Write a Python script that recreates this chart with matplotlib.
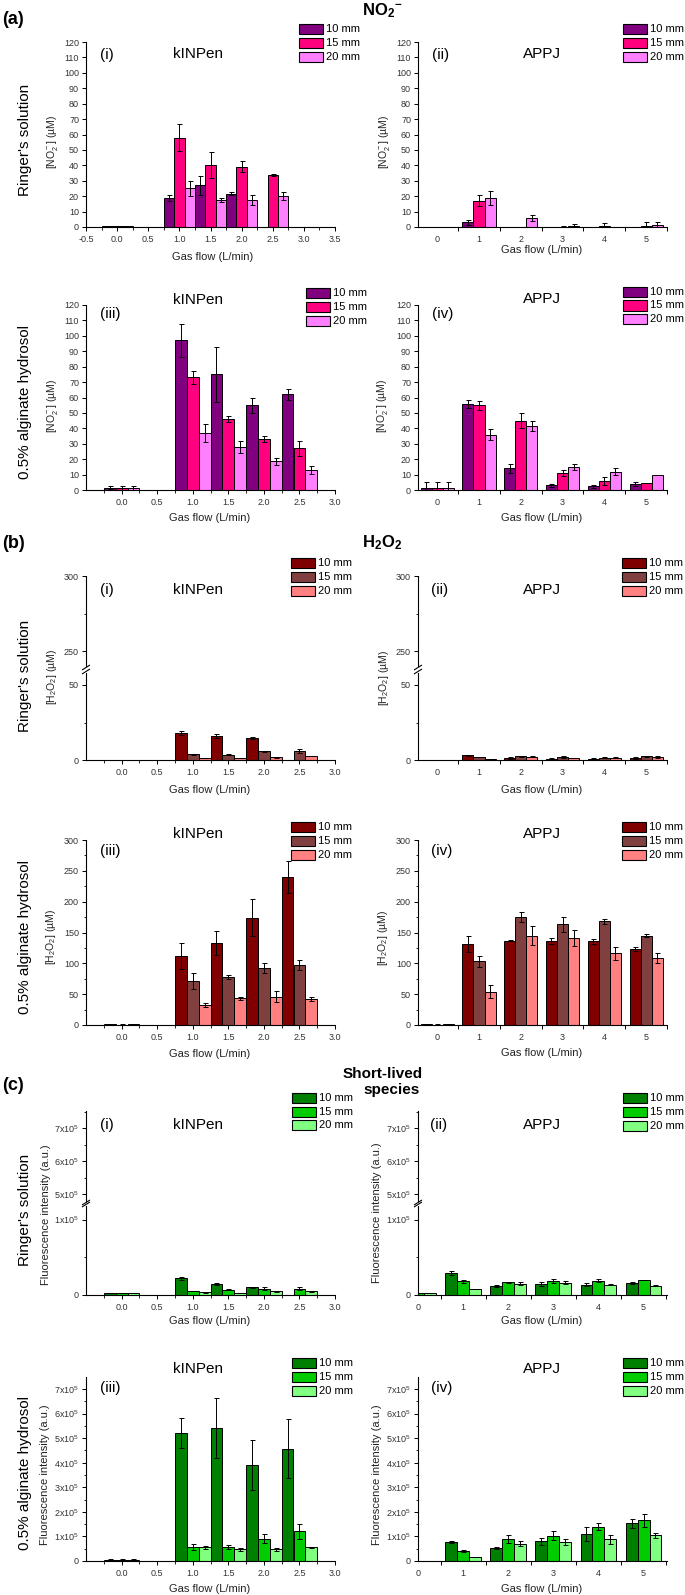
import numpy as np
import matplotlib
matplotlib.use('Agg')
import matplotlib.pyplot as plt
from matplotlib.lines import Line2D
from matplotlib.patches import Rectangle

plt.rcParams['font.family'] = ['Liberation Sans', 'DejaVu Sans']
plt.rcParams['mathtext.fontset'] = 'custom'
plt.rcParams['mathtext.rm'] = 'Liberation Sans'
plt.rcParams['mathtext.it'] = 'Liberation Sans:italic'
plt.rcParams['mathtext.bf'] = 'Liberation Sans:bold'

# ---------------- data ----------------
distances = ['10 mm', '15 mm', '20 mm']
kinpen_flow = [0.0, 1.0, 1.5, 2.0, 2.5]
appj_flow = [0, 1, 2, 3, 4, 5]

# NO2- (µM)
no2_ringer_kinpen = [[0.5, 19, 27, 21.5, 0], [0.4, 58, 40, 39, 33.5], [0.4, 25, 17.5, 17.5, 20]]
no2_ringer_kinpen_err = [[0.3, 2, 6, 1, 0], [0.3, 9, 8.5, 3.5, 0.6], [0.3, 5, 1, 3, 2.5]]
no2_ringer_appj = [[0, 3, 0, 0, 0, 0], [0, 17, 0, 0.2, 0.6, 0.5], [0, 19, 6, 0.8, 0, 1.3]]
no2_ringer_appj_err = [[0, 1.5, 0, 0, 0, 0], [0, 3.5, 0, 0.5, 2, 2.5], [0, 4.5, 2, 1.2, 0, 2]]
no2_alg_kinpen = [[1.5, 97, 75, 55, 62], [1.3, 73, 46, 33, 27], [1.5, 37, 28, 18.5, 13]]
no2_alg_kinpen_err = [[1, 11, 18, 5, 3.5], [1.2, 4, 2, 2, 5], [1.2, 6, 4, 2, 2.5]]
no2_alg_appj = [[1, 56, 14, 3, 2.5, 4], [1, 55, 45, 11, 6, 4.5], [1, 36, 41.5, 15, 12, 10]]
no2_alg_appj_err = [[4, 2.5, 3, 0.8, 1, 1.5], [4, 3, 5, 2, 2.5, 0], [4, 3.5, 3, 2, 2.5, 0]]

# H2O2 (µM)
h2o2_ringer_kinpen = [[0, 18, 16, 14.5, 0], [0, 3.8, 3.6, 5.8, 6], [0, 1.3, 1.3, 1.8, 2.7]]
h2o2_ringer_kinpen_err = [[0, 1.5, 1.5, 0.6, 0], [0, 0.5, 0.1, 0.3, 1.2], [0, 0.2, 0.2, 0.4, 0.3]]
h2o2_ringer_appj = [[0, 3.1, 1.3, 0.9, 0.9, 1.5], [0, 2, 2.4, 2, 1.5, 2.4], [0, 0.7, 2.3, 1.4, 1.5, 2]]
h2o2_ringer_appj_err = [[0, 0.2, 0.6, 0.2, 0.2, 0.6], [0, 0.2, 0.6, 0.6, 0.4, 0.2], [0, 0.1, 0.2, 0.2, 0.4, 0.4]]
h2o2_alg_kinpen = [[1, 112, 133, 174, 240], [0.5, 71, 78, 92, 98], [1, 33, 43, 46, 42]]
h2o2_alg_kinpen_err = [[1, 21, 20, 30, 26], [1.2, 13, 3, 8, 8], [1, 3, 2, 9, 3]]
h2o2_alg_appj = [[1, 132, 137, 136, 136, 123], [0.5, 103, 175, 163, 168, 145], [1, 54, 145, 141, 116, 108]]
h2o2_alg_appj_err = [[1, 13, 0.5, 5, 4, 3], [1, 9, 8, 12, 4, 3], [1, 11, 15, 13, 10, 8]]

# Short-lived species, fluorescence intensity in units of 1e5 a.u.
sl_ringer_kinpen = [[0.027, 0.22, 0.146, 0.10, 0], [0.027, 0.053, 0.07, 0.08, 0.08], [0.027, 0.035, 0.03, 0.05, 0.05]]
sl_ringer_kinpen_err = [[0.005, 0.02, 0.015, 0.01, 0], [0.005, 0.005, 0.01, 0.02, 0.02], [0.005, 0.003, 0.003, 0.005, 0.005]]
sl_ringer_appj = [[0.025, 0.29, 0.115, 0.146, 0.137, 0.155], [0.027, 0.18, 0.17, 0.186, 0.186, 0.2], [0.027, 0.08, 0.146, 0.16, 0.137, 0.124]]
sl_ringer_appj_err = [[0, 0.03, 0.015, 0.025, 0.02, 0.015], [0, 0.02, 0.005, 0.025, 0.02, 0.005], [0, 0.005, 0.02, 0.02, 0.01, 0.01]]
sl_alg_kinpen = [[0.06, 5.2, 5.4, 3.9, 4.57], [0.06, 0.57, 0.57, 0.91, 1.21], [0.06, 0.55, 0.47, 0.47, 0.55]]
sl_alg_kinpen_err = [[0.01, 0.62, 1.22, 1.02, 1.2], [0.01, 0.12, 0.1, 0.17, 0.3], [0.01, 0.06, 0.06, 0.06, 0.02]]
sl_alg_appj = [[0.02, 0.78, 0.52, 0.8, 1.1, 1.53], [0.02, 0.4, 0.9, 1.03, 1.4, 1.65], [0.02, 0.17, 0.71, 0.76, 0.88, 1.04]]
sl_alg_appj_err = [[0, 0.03, 0.04, 0.15, 0.3, 0.18], [0, 0.05, 0.15, 0.18, 0.15, 0.28], [0, 0.01, 0.1, 0.12, 0.18, 0.1]]

no2_colors = ['#800080', '#FF0080', '#FF80FF']
h2o2_colors = ['#800000', '#804040', '#FF8080']
sl_colors = ['#008000', '#00CC00', '#80FF80']

# ---------------- figure ----------------
W, H = 685, 1595
fig = plt.figure(figsize=(W / 100, H / 100), dpi=100)
TICKC = '#333333'


def rect(l, t, r, b):
    return [l / W, 1 - b / H, (r - l) / W, (b - t) / H]


def ftxt(x, y, s, **kw):
    fig.text(x / W, 1 - y / H, s, **kw)


def pxline(x0, y0, x1, y1, lw=0.8):
    fig.add_artist(Line2D([x0 / W, x1 / W], [1 - y0 / H, 1 - y1 / H],
                          transform=fig.transFigure, color='black', lw=lw))


def draw_bars(ax, x, vals, errs, colors, width):
    for i in range(3):
        xs = np.array(x, dtype=float) + (i - 1) * width
        v = np.array(vals[i], dtype=float)
        e = np.array(errs[i], dtype=float)
        m = v > 0
        ax.bar(xs[m], v[m], width, color=colors[i], edgecolor='black',
               linewidth=0.7, zorder=2)
        me = e > 0
        ax.errorbar(xs[me], v[me], yerr=e[me], fmt='none', ecolor='black',
                    elinewidth=0.7, capsize=1.8, capthick=0.7, zorder=3)


def style(ax):
    for s in ['top', 'right']:
        ax.spines[s].set_visible(False)
    for s in ['left', 'bottom']:
        ax.spines[s].set_linewidth(0.8)
    ax.tick_params(direction='out', length=3, width=0.7, labelsize=6.5,
                   labelcolor=TICKC, pad=2)
    ax.tick_params(axis='x', pad=3)
    ax.tick_params(which='minor', direction='out', length=1.8, width=0.6)
    ax.set_facecolor('none')


def set_x(ax, kind):
    if kind == 'kin_a':
        ax.set_xlim(-0.5, 3.5)
        t = np.arange(-0.5, 3.51, 0.5)
        ax.set_xticks(t)
        ax.set_xticklabels(['%.1f' % v for v in t])
        ax.set_xticks(np.arange(-0.25, 3.5, 0.5), minor=True)
    elif kind == 'kin':
        ax.set_xlim(-0.5, 3.0)
        t = np.arange(0.0, 3.01, 0.5)
        ax.set_xticks(t)
        ax.set_xticklabels(['%.1f' % v for v in t])
        ax.set_xticks(np.arange(-0.25, 3.0, 0.5), minor=True)
    else:
        if kind == 'appj':
            ax.set_xlim(-0.46, 5.5)
        else:
            ax.set_xlim(0, 5.52)
        ax.set_xticks(appj_flow)
        ax.set_xticklabels([str(v) for v in appj_flow])
        ax.set_xticks(np.arange(0.5, 5.6, 1.0), minor=True)
        ax.tick_params(axis='x', which='major', length=0, pad=6)
        ax.tick_params(axis='x', which='minor', length=3, width=0.7)


def legend(bx, rows, colors):
    for c, y, lab in zip(colors, rows, distances):
        fig.add_artist(Rectangle((bx / W, 1 - (y + 5) / H), 24 / W, 10 / H,
                                 transform=fig.transFigure, facecolor=c,
                                 edgecolor='black', lw=0.8))
        ftxt(bx + 27, y, lab, fontsize=8, va='center', ha='left')


def fl_fmt(v):
    return '0' if v == 0 else r'%dx10$^5$' % v


def simple_panel(l, t, r, b, x, vals, errs, colors, width, xkind, ylim, yt, ytm, yfmt):
    ax = fig.add_axes(rect(l, t, r, b))
    style(ax)
    draw_bars(ax, x, vals, errs, colors, width)
    set_x(ax, xkind)
    ax.set_ylim(*ylim)
    ax.set_yticks(yt)
    ax.set_yticklabels([yfmt(v) for v in yt])
    if ytm is not None:
        ax.set_yticks(ytm, minor=True)
    return ax


def broken_panel(l, r, tu, bu, tl, bl, x, vals, errs, colors, width, xkind,
                 ylu, ytu, ytmu, yll, ytl, ytml, yfmt):
    axu = fig.add_axes(rect(l, tu, r, bu))
    axl = fig.add_axes(rect(l, tl, r, bl))
    for ax in (axu, axl):
        style(ax)
        draw_bars(ax, x, vals, errs, colors, width)
        set_x(ax, xkind)
    axu.spines['bottom'].set_visible(False)
    axu.tick_params(axis='x', which='both', bottom=False, labelbottom=False)
    axu.set_ylim(*ylu)
    axu.set_yticks(ytu)
    axu.set_yticklabels([yfmt(v) for v in ytu])
    axu.set_yticks(ytmu, minor=True)
    axl.set_ylim(*yll)
    axl.set_yticks(ytl)
    axl.set_yticklabels([yfmt(v) for v in ytl])
    axl.set_yticks(ytml, minor=True)
    gy0, gy1 = bu, tl
    for yy in (gy0 + 1.5, gy1 - 1.5):
        pxline(l - 3.5, yy + 2.2, l + 3.5, yy - 2.2)
    return axu, axl


KW = 1 / 6
AW = 0.265
intfmt = lambda v: '%d' % v

# ---------- (a) NO2- ----------
simple_panel(86, 42, 335, 227, kinpen_flow, no2_ringer_kinpen, no2_ringer_kinpen_err,
             no2_colors, KW, 'kin_a', (0, 120), np.arange(0, 121, 10), None, intfmt)
simple_panel(418, 42, 667, 227, appj_flow, no2_ringer_appj, no2_ringer_appj_err,
             no2_colors, AW, 'appj', (0, 120), np.arange(0, 121, 10), None, intfmt)
simple_panel(86, 305, 335, 490, kinpen_flow, no2_alg_kinpen, no2_alg_kinpen_err,
             no2_colors, KW, 'kin', (0, 120), np.arange(0, 121, 10), None, intfmt)
simple_panel(418, 305, 667, 490, appj_flow, no2_alg_appj, no2_alg_appj_err,
             no2_colors, AW, 'appj', (0, 120), np.arange(0, 121, 10), None, intfmt)

# ---------- (b) H2O2 ----------
broken_panel(86, 335, 576, 666, 673, 760, kinpen_flow, h2o2_ringer_kinpen, h2o2_ringer_kinpen_err,
             h2o2_colors, KW, 'kin', (240, 300), [250, 300], [275], (0, 58), [0, 50], [25], intfmt)
broken_panel(418, 667, 576, 666, 673, 760, appj_flow, h2o2_ringer_appj, h2o2_ringer_appj_err,
             h2o2_colors, AW, 'appj', (240, 300), [250, 300], [275], (0, 58), [0, 50], [25], intfmt)
simple_panel(86, 840, 335, 1025, kinpen_flow, h2o2_alg_kinpen, h2o2_alg_kinpen_err,
             h2o2_colors, KW, 'kin', (0, 300), np.arange(0, 301, 50), np.arange(25, 300, 50), intfmt)
simple_panel(418, 840, 667, 1025, appj_flow, h2o2_alg_appj, h2o2_alg_appj_err,
             h2o2_colors, AW, 'appj', (0, 300), np.arange(0, 301, 50), np.arange(25, 300, 50), intfmt)

# ---------- (c) short-lived species ----------
broken_panel(86, 335, 1111, 1201, 1206, 1295, kinpen_flow, sl_ringer_kinpen, sl_ringer_kinpen_err,
             sl_colors, KW, 'kin', (4.79, 7.53), [5, 6, 7], [5.5, 6.5, 7.5], (0, 1.18), [0, 1], [0.5], fl_fmt)
broken_panel(418, 667, 1111, 1201, 1206, 1295, appj_flow, sl_ringer_appj, sl_ringer_appj_err,
             sl_colors, AW, 'appj_c', (4.79, 7.53), [5, 6, 7], [5.5, 6.5, 7.5], (0, 1.18), [0, 1], [0.5], fl_fmt)
simple_panel(86, 1377, 335, 1561, kinpen_flow, sl_alg_kinpen, sl_alg_kinpen_err,
             sl_colors, KW, 'kin', (0, 7.49), np.arange(0, 8, 1), np.arange(0.5, 7.5, 1), fl_fmt)
simple_panel(418, 1377, 667, 1561, appj_flow, sl_alg_appj, sl_alg_appj_err,
             sl_colors, AW, 'appj_c', (0, 7.49), np.arange(0, 8, 1), np.arange(0.5, 7.5, 1), fl_fmt)

# ---------- legends ----------
legend(299, [29, 43, 57], no2_colors)
legend(623, [29, 43, 57], no2_colors)
legend(306, [293, 307, 321], no2_colors)
legend(623, [292, 305.5, 319], no2_colors)
legend(291, [563, 577, 591], h2o2_colors)
legend(622, [563, 577, 591], h2o2_colors)
legend(291, [827, 841, 855], h2o2_colors)
legend(622, [827, 841, 855], h2o2_colors)
legend(292, [1098, 1112, 1125], sl_colors)
legend(623, [1098, 1112, 1126], sl_colors)
legend(292, [1363, 1377, 1391], sl_colors)
legend(623, [1363, 1377, 1391], sl_colors)

# ---------- panel texts ----------
TF = 11
for (ix, ay_, tx, ty, roman, name) in [
        (100, 55, 198, 54, '(i)', 'kINPen'),
        (432, 55, 542, 54, '(ii)', 'APPJ'),
        (100, 314, 198, 300, '(iii)', 'kINPen'),
        (432, 314, 542, 299, '(iv)', 'APPJ'),
        (100, 590, 198, 590, '(i)', 'kINPen'),
        (431, 590, 542, 590, '(ii)', 'APPJ'),
        (100, 851, 198, 834, '(iii)', 'kINPen'),
        (431, 851, 542, 834, '(iv)', 'APPJ'),
        (100, 1125, 198, 1125, '(i)', 'kINPen'),
        (430, 1125, 542, 1125, '(ii)', 'APPJ'),
        (100, 1388, 198, 1369, '(iii)', 'kINPen'),
        (431, 1388, 542, 1369, '(iv)', 'APPJ')]:
    ftxt(ix, ay_, roman, fontsize=TF, ha='left', va='center')
    ftxt(tx, ty, name, fontsize=TF, ha='center', va='center')

# section labels
ftxt(2, 20, '(a)', fontsize=13, fontweight='bold', ha='left', va='center')
ftxt(2, 544, '(b)', fontsize=13, fontweight='bold', ha='left', va='center')
ftxt(2, 1086, '(c)', fontsize=13, fontweight='bold', ha='left', va='center')
ftxt(382, 11, r'$\mathbf{NO_{2}{}^{-}}$', fontsize=12, ha='center', va='center')
ftxt(382, 543, r'$\mathbf{H_2O_2}$', fontsize=12, ha='center', va='center')
ftxt(383, 1074, 'Short-lived', fontsize=11, fontweight='bold',
     ha='center', va='center')
ftxt(392, 1090, 'species', fontsize=11, fontweight='bold',
     ha='center', va='center')

# row labels
for y, s in [(140, "Ringer's solution"), (402, '0.5% alginate hydrosol'),
             (676, "Ringer's solution"), (937, '0.5% alginate hydrosol'),
             (1210, "Ringer's solution"), (1473, '0.5% alginate hydrosol')]:
    ftxt(25, y, s, fontsize=11, rotation=90, ha='center', va='center')

# y-axis labels
no2_lab = r'[NO$_2^-$] (µM)'
h2o2_lab = r'[H$_2$O$_2$] (µM)'
fl_lab = 'Fluorescence intensity (a.u.)'
for x, y, s, fs in [(52, 142, no2_lab, 7.5), (384, 142, no2_lab, 7.5),
                    (52, 406, no2_lab, 7.5), (383, 406, no2_lab, 7.5),
                    (52, 677, h2o2_lab, 7.5), (384, 678, h2o2_lab, 7.5),
                    (51, 937, h2o2_lab, 7.5), (383, 938, h2o2_lab, 7.5),
                    (46, 1215, fl_lab, 8), (377, 1213, fl_lab, 8),
                    (45, 1475, fl_lab, 8), (377, 1475, fl_lab, 8)]:
    ftxt(x, y, s, fontsize=fs, rotation=90, ha='center', va='center', color='#222222')

# x-axis labels
for x, y in [(213, 257), (542, 250), (210, 518), (542, 518),
             (210, 790), (542, 790), (210, 1054), (542, 1053),
             (210, 1321), (542, 1321), (210, 1589), (542, 1589)]:
    ftxt(x, y, 'Gas flow (L/min)', fontsize=8, ha='center', va='center', color='#222222')

fig.savefig('out.png', dpi=100)
